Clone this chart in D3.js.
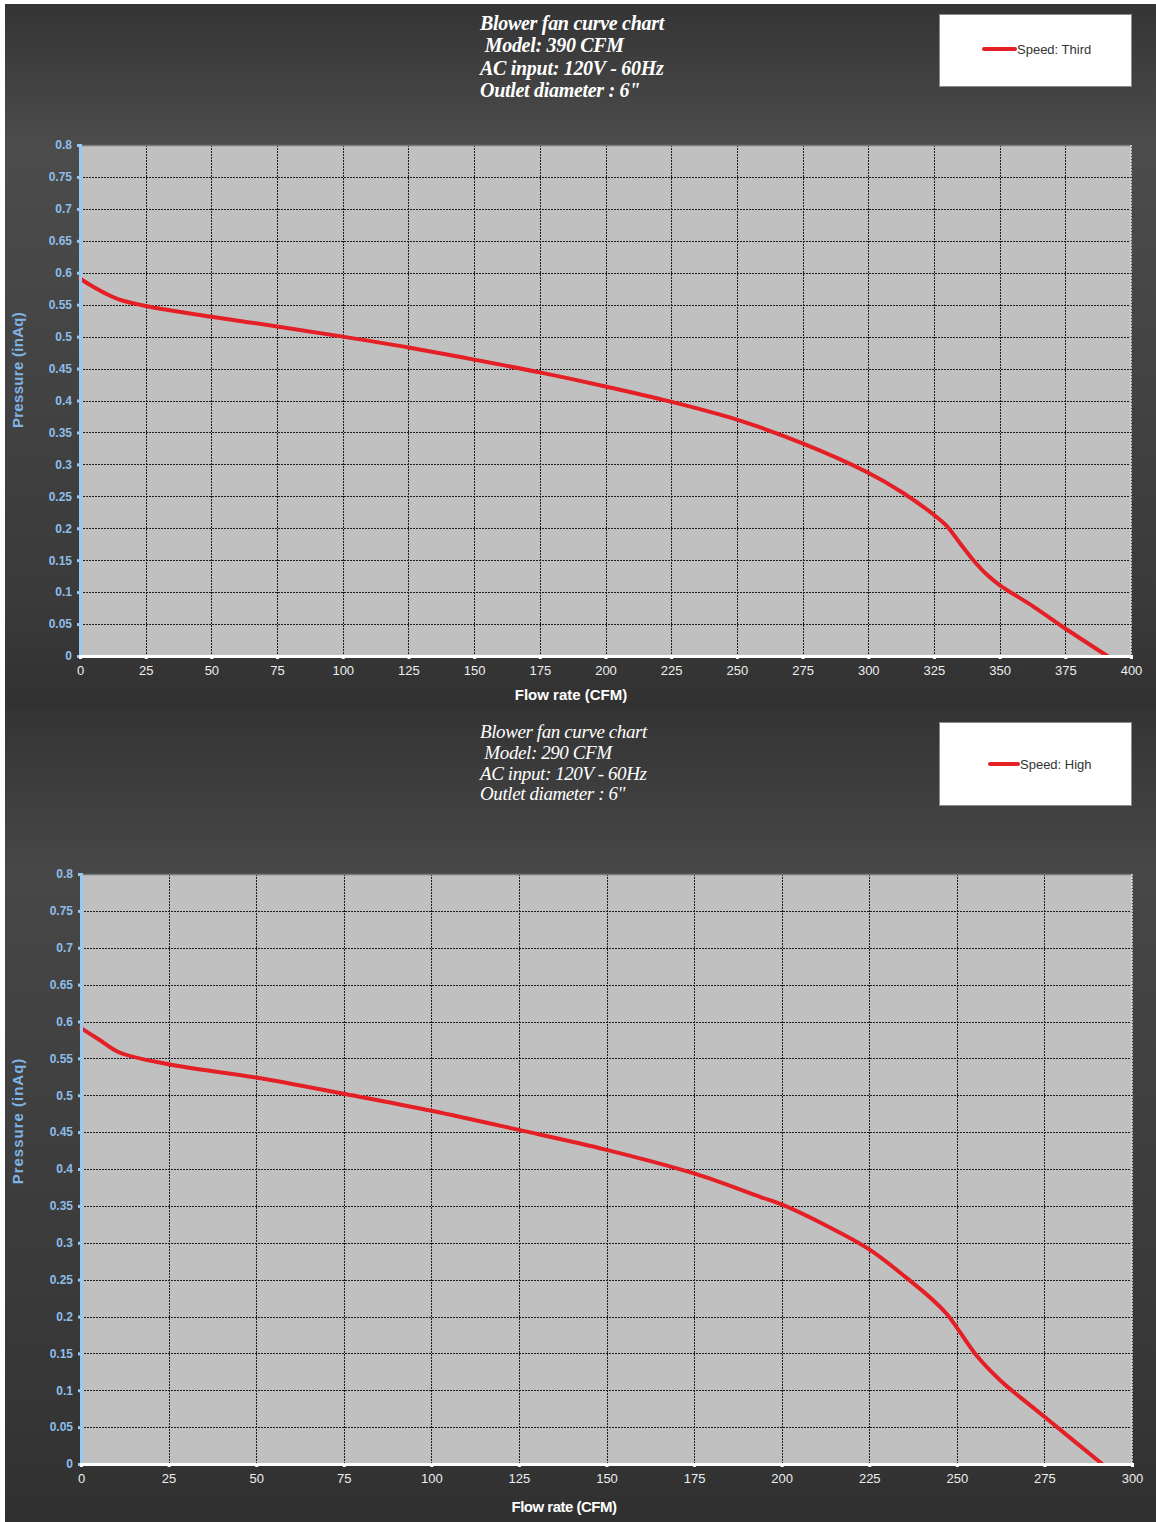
<!DOCTYPE html>
<html>
<head>
<meta charset="utf-8">
<script src="https://cdn.jsdelivr.net/npm/d3@7"></script>
<style>
  body { margin: 0; background: #ffffff; }
  svg { display: block; }
</style>
</head>
<body>
<script>
// Speed: Third (390 CFM model)
const thirdFlow = [0, 5, 10, 15, 25, 50, 75, 100, 125, 150, 175, 200, 225, 250, 275, 300, 313, 325, 330, 335, 340, 345, 350, 363, 375, 391];
const thirdPressure = [0.591, 0.578, 0.567, 0.558, 0.548, 0.531, 0.516, 0.5, 0.483, 0.464, 0.444, 0.422, 0.398, 0.37, 0.333, 0.287, 0.256, 0.221, 0.203, 0.176, 0.15, 0.128, 0.111, 0.077, 0.043, 0];

// Speed: High (290 CFM model)
const highFlow = [0, 5, 11, 25, 50, 75, 100, 125, 150, 175, 194, 200, 212, 225, 236, 243, 247, 250, 256, 262.5, 275, 291.5];
const highPressure = [0.591, 0.576, 0.558, 0.542, 0.524, 0.502, 0.479, 0.453, 0.426, 0.394, 0.362, 0.352, 0.325, 0.291, 0.251, 0.223, 0.204, 0.185, 0.145, 0.113, 0.064, 0];

const yTicks = [0, 0.05, 0.1, 0.15, 0.2, 0.25, 0.3, 0.35, 0.4, 0.45, 0.5, 0.55, 0.6, 0.65, 0.7, 0.75, 0.8];
const thirdXTicks = d3.range(0, 401, 25);
const highXTicks = d3.range(0, 301, 25);

const thirdTitle = ["Blower fan curve chart", " Model: 390 CFM", "AC input: 120V - 60Hz", "Outlet diameter : 6\""];
const highTitle = ["Blower fan curve chart", " Model: 290 CFM", "AC input: 120V - 60Hz", "Outlet diameter : 6\""];

const W = 1156, H = 1522;
const svg = d3.select("body").append("svg").attr("width", W).attr("height", H);
const defs = svg.append("defs");

function panelGradient(id, stops) {
  const g = defs.append("linearGradient").attr("id", id)
    .attr("x1", 0).attr("y1", 0).attr("x2", 0).attr("y2", 1);
  stops.forEach(s => g.append("stop").attr("offset", s[0]).attr("stop-color", s[1]));
}
panelGradient("bg1", [[0, "#333433"], [0.2, "#4b4c4b"], [0.85, "#3a3a3a"], [1, "#313131"]]);
panelGradient("bg2", [[0, "#343434"], [0.2, "#474747"], [0.85, "#363636"], [1, "#303030"]]);

svg.append("rect").attr("x", 5).attr("y", 4).attr("width", W - 5).attr("height", 704).attr("fill", "url(#bg1)");
svg.append("rect").attr("x", 5).attr("y", 708).attr("width", W - 5).attr("height", H - 708).attr("fill", "url(#bg2)");

function drawChart(cfg) {
  const x = d3.scaleLinear().domain([0, cfg.xMax]).range([cfg.left, cfg.right]);
  const y = d3.scaleLinear().domain([0, 0.8]).range([cfg.bottom, cfg.top]);
  const g = svg.append("g");

  // plot area
  g.append("rect").attr("x", cfg.left).attr("y", cfg.top)
    .attr("width", cfg.right - cfg.left).attr("height", cfg.bottom - cfg.top)
    .attr("fill", "#c0c0c0");

  // grid
  g.selectAll(".vgrid").data(cfg.xTicks.filter(d => d > 0 && d < cfg.xMax)).join("line")
    .attr("x1", d => Math.round(x(d)) + 0.5).attr("x2", d => Math.round(x(d)) + 0.5)
    .attr("y1", cfg.top).attr("y2", cfg.bottom)
    .attr("stroke", "#1e1e1e").attr("stroke-width", 1).attr("stroke-dasharray", "2,1");
  g.selectAll(".hgrid").data(yTicks.filter(d => d > 0 && d < 0.8)).join("line")
    .attr("x1", cfg.left).attr("x2", cfg.right)
    .attr("y1", d => Math.round(y(d)) + 0.5).attr("y2", d => Math.round(y(d)) + 0.5)
    .attr("stroke", "#1e1e1e").attr("stroke-width", 1).attr("stroke-dasharray", "2,1");

  // borders
  g.append("line").attr("x1", cfg.left).attr("x2", cfg.right).attr("y1", cfg.top + 0.5).attr("y2", cfg.top + 0.5)
    .attr("stroke", "#7a7a7a").attr("stroke-width", 1.5);
  g.append("line").attr("x1", cfg.right).attr("x2", cfg.right).attr("y1", cfg.top).attr("y2", cfg.bottom)
    .attr("stroke", "#dddddd").attr("stroke-width", 1.5).attr("stroke-dasharray", "2,1");

  // curve
  const line = d3.line().x(d => x(d[0])).y(d => y(d[1])).curve(d3.curveCatmullRom.alpha(0.5));
  g.append("path").datum(d3.zip(cfg.flow, cfg.pressure))
    .attr("d", line).attr("fill", "none")
    .attr("stroke", "#e41f26").attr("stroke-width", 4).attr("stroke-linecap", "round");

  // left axis
  const yAxis = g.append("g").attr("transform", `translate(${cfg.left},0)`)
    .call(d3.axisLeft(y).tickValues(yTicks).tickSize(3).tickPadding(5).tickFormat(d => String(+d.toFixed(2))));
  yAxis.select(".domain").attr("stroke", "#99c8f2").attr("stroke-width", 3);
  yAxis.selectAll(".tick line").attr("stroke", "#99c8f2").attr("stroke-width", 3);
  yAxis.selectAll(".tick text").attr("fill", "#8fbde9")
    .style("font", `bold 12px ${cfg.tickFont}`).attr("letter-spacing", cfg.tickSpacing);

  // bottom axis
  const xAxis = g.append("g").attr("transform", `translate(0,${cfg.bottom})`)
    .call(d3.axisBottom(x).tickValues(cfg.xTicks).tickSize(3).tickPadding(7));
  xAxis.select(".domain").attr("stroke", "#ffffff").attr("stroke-width", 3);
  xAxis.selectAll(".tick line").attr("stroke", "#ffffff").attr("stroke-width", 3);
  xAxis.selectAll(".tick text").attr("fill", "#eeeeee")
    .style("font", `13px ${cfg.tickFont}`).attr("letter-spacing", cfg.tickSpacing);

  // axis titles
  g.append("text").attr("x", cfg.xTitleX).attr("y", cfg.xTitleY)
    .attr("text-anchor", "middle").attr("fill", "#ffffff")
    .attr("letter-spacing", cfg.xTitleSpacing)
    .style("font", "bold 15px 'Liberation Sans', Arial, sans-serif").text("Flow rate (CFM)");
  g.append("text").attr("transform", `translate(23,${cfg.yTitleY}) rotate(-90)`)
    .attr("text-anchor", "middle").attr("fill", "#80b4e4")
    .attr("letter-spacing", cfg.yTitleSpacing)
    .style("font", "bold 15px 'Liberation Sans', Arial, sans-serif").text("Pressure (inAq)");

  // title block
  g.selectAll(".title").data(cfg.title).join("text")
    .attr("x", 480).attr("y", (d, i) => cfg.titleY + i * cfg.titleStep)
    .attr("fill", "#ffffff").attr("xml:space", "preserve")
    .attr("letter-spacing", cfg.titleSpacing)
    .style("font", `italic ${cfg.titleWeight} ${cfg.titleSize}px 'Liberation Serif', 'Times New Roman', serif`)
    .style("white-space", "pre")
    .text(d => d);

  // legend
  const lg = cfg.legend;
  g.append("rect").attr("x", lg.x).attr("y", lg.y).attr("width", lg.w).attr("height", lg.h)
    .attr("fill", "#ffffff").attr("stroke", "#8a8a96").attr("stroke-width", 1);
  g.append("line").attr("x1", lg.lx1).attr("x2", lg.lx2).attr("y1", lg.ly).attr("y2", lg.ly)
    .attr("stroke", "#e41f26").attr("stroke-width", 4).attr("stroke-linecap", "round");
  g.append("text").attr("x", lg.lx2 + 2).attr("y", lg.ly + 5)
    .attr("fill", "#333333").style("font", "13px 'Liberation Sans', Arial, sans-serif")
    .text(lg.label);
}

drawChart({
  flow: thirdFlow, pressure: thirdPressure, xMax: 400, xTicks: thirdXTicks,
  left: 80, right: 1131, top: 145, bottom: 656,
  xTitleX: 571, xTitleY: 700, yTitleY: 370, xTitleSpacing: 0, yTitleSpacing: 0.3,
  tickFont: "'Liberation Sans', Arial, sans-serif", tickSpacing: 0,
  title: thirdTitle, titleY: 30, titleStep: 22.3, titleWeight: "bold", titleSize: 20, titleSpacing: -0.3,
  legend: { x: 939.5, y: 14.5, w: 192, h: 72, lx1: 984, lx2: 1015, ly: 49, label: "Speed: Third" }
});

drawChart({
  flow: highFlow, pressure: highPressure, xMax: 300, xTicks: highXTicks,
  left: 81, right: 1132, top: 874, bottom: 1464,
  xTitleX: 564, xTitleY: 1512, yTitleY: 1121, xTitleSpacing: -0.5, yTitleSpacing: 1,
  tickFont: "'Liberation Sans Narrow', 'Liberation Sans', Arial, sans-serif", tickSpacing: 0,
  title: highTitle, titleY: 738, titleStep: 20.8, titleWeight: "normal", titleSize: 19, titleSpacing: -0.4,
  legend: { x: 939.5, y: 722.5, w: 192, h: 83, lx1: 990, lx2: 1018, ly: 764, label: "Speed: High" }
});
</script>
</body>
</html>
